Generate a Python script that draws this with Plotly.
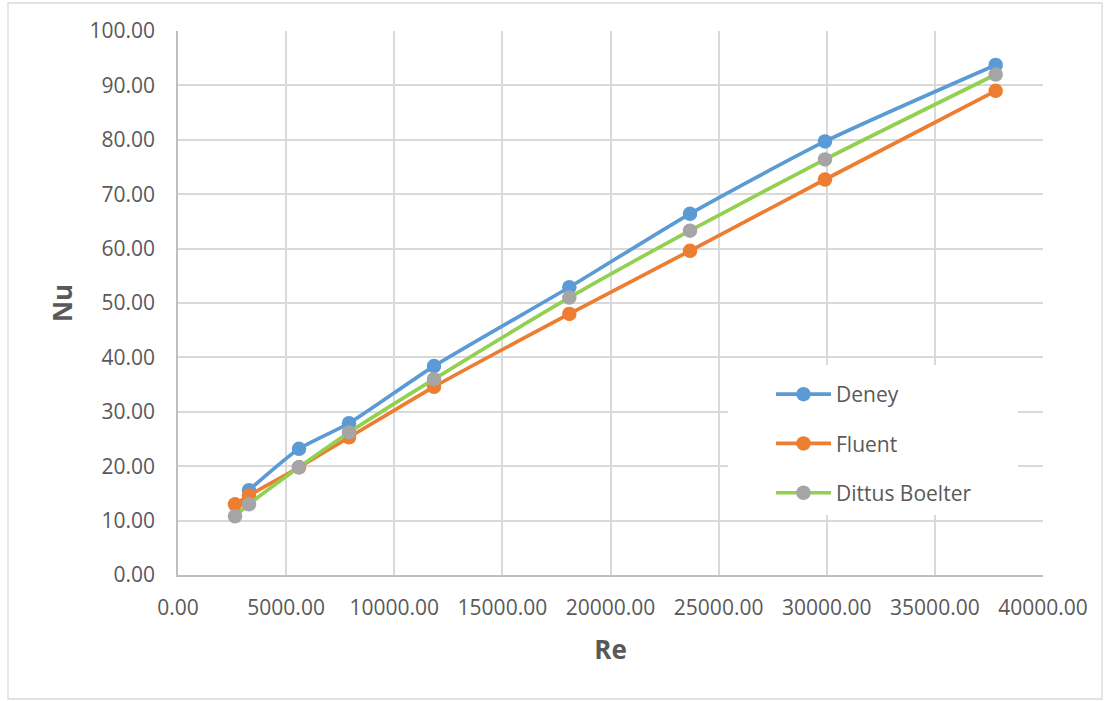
import plotly.graph_objects as go

re_values = [2636, 3283, 5595, 7908, 11838, 18096, 23676, 29919, 37812]
nu_deney = [None, 15.6, 23.2, 27.9, 38.4, 52.9, 66.4, 79.7, 93.75]
nu_fluent = [13.0, 14.6, 19.8, 25.3, 34.6, 48.0, 59.6, 72.7, 89.0]
nu_dittus = [10.8, 13.0, 19.8, 26.2, 36.0, 51.0, 63.3, 76.4, 92.0]
series_names = ["Deney", "Fluent", "Dittus Boelter"]

FONT = "Open Sans"
TXT = "#595959"

fig = go.Figure()
specs = [
    (series_names[0], nu_deney, "#5B9BD5", "#5B9BD5"),
    (series_names[1], nu_fluent, "#ED7D31", "#ED7D31"),
    (series_names[2], nu_dittus, "#92D050", "#A5A5A5"),
]
for i, (name, ys, lc, mc) in enumerate(specs):
    fig.add_trace(go.Scatter(
        x=re_values, y=ys, name=name, mode="lines+markers",
        line=dict(color=lc, width=3.7, shape="spline", smoothing=0.6),
        marker=dict(color=mc, size=14.5),
        legendgroup=f"g{i}", connectgaps=False,
    ))

# pixel -> data helpers for the legend backdrop (styling only)
def px_x(p):
    return (p - 178) / 865 * 40000

def px_y(p):
    return (575 - p) / 544 * 100

fig.update_layout(
    width=1105, height=701,
    margin=dict(l=178, r=62, t=31, b=126),
    paper_bgcolor="white", plot_bgcolor="white",
    font=dict(family=FONT, size=21, color=TXT),
    showlegend=True,
    legend=dict(
        x=(771 - 178) / 865, y=(575 - 374) / 544,
        xanchor="left", yanchor="top",
        bgcolor="rgba(0,0,0,0)", borderwidth=0,
        itemwidth=55, tracegroupgap=19,
        font=dict(family=FONT, size=21, color=TXT),
    ),
    xaxis=dict(
        range=[0, 40000], dtick=5000, tick0=0, tickformat=".2f",
        showgrid=True, gridcolor="#D9D9D9", gridwidth=1.5,
        showline=True, linecolor="#BFBFBF", linewidth=1.5,
        zeroline=False, ticks="", ticklabelstandoff=13,
        title=dict(text="<b>Re</b>", font=dict(family=FONT, size=26, color=TXT), standoff=21),
    ),
    yaxis=dict(
        range=[0, 100], dtick=10, tick0=0, tickformat=".2f",
        showgrid=True, gridcolor="#D9D9D9", gridwidth=1.5,
        showline=True, linecolor="#BFBFBF", linewidth=1.5,
        zeroline=False, ticks="", ticklabelstandoff=17,
        title=dict(text="<b>Nu</b>", font=dict(family=FONT, size=26, color=TXT), standoff=9),
    ),
    shapes=[
        dict(type="rect", xref="x", yref="y",
             x0=px_x(728), x1=px_x(1018), y0=px_y(515), y1=px_y(365),
             fillcolor="white", line=dict(width=0), layer="between"),
        dict(type="rect", xref="paper", yref="paper",
             x0=(8 - 178) / 865, x1=(1102 - 178) / 865,
             y0=(575 - 699) / 544, y1=(575 - 3) / 544,
             line=dict(color="#D9D9D9", width=1.3), fillcolor="rgba(0,0,0,0)", layer="above"),
    ],
)

fig.write_html("out.html", config={"displayModeBar": False},
               post_script="document.body.style.margin='0';")
